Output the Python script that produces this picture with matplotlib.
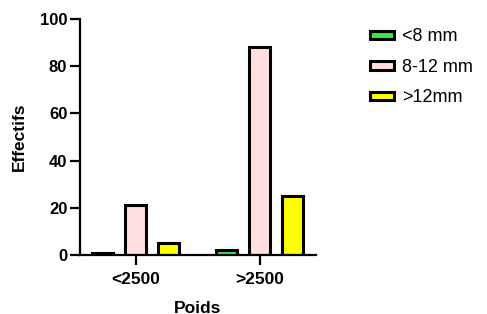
import matplotlib
matplotlib.use("Agg")
import matplotlib.pyplot as plt
import numpy as np

plt.rcParams['font.family'] = ['Liberation Sans', 'DejaVu Sans']

categories = ["<2500", ">2500"]
series_names = ["<8 mm", "8-12 mm", ">12mm"]
values_lt8 = [1, 2]
values_8_12 = [21, 88]
values_gt12 = [5, 25]
colors = ["#3ee83e", "#ffdfdf", "#ffff00"]

fig = plt.figure(figsize=(4.87, 3.14), dpi=100)
ax = fig.add_axes([0.164, 0.188, 0.485, 0.751])

x = np.arange(len(categories))
offset = 0.266
width = 0.17
all_vals = [values_lt8, values_8_12, values_gt12]
for i, (vals, name, c) in enumerate(zip(all_vals, series_names, colors)):
    ax.bar(x + (i - 1) * offset, vals, width=width, color=c, edgecolor='black',
           linewidth=2.2, label=name, zorder=2)

ax.set_xlim(-0.45, 1.455)
ax.set_ylim(0, 100)
ax.set_yticks([0, 20, 40, 60, 80, 100])
ax.set_xticks(x)
ax.set_xticklabels(categories)
for s in ['top', 'right']:
    ax.spines[s].set_visible(False)
for s in ['left', 'bottom']:
    ax.spines[s].set_linewidth(1.6)
    ax.spines[s].set_zorder(3)
ax.tick_params(axis='both', width=1.6, length=7)
ax.tick_params(axis='y', labelsize=12, pad=2)
ax.tick_params(axis='x', labelsize=12.5, pad=5)
for lab in ax.get_xticklabels() + ax.get_yticklabels():
    lab.set_fontweight('bold')
ax.set_xlabel("Poids", fontsize=12.5, fontweight='bold', labelpad=10)
ax.set_ylabel("Effectifs", fontsize=12.5, fontweight='bold', labelpad=9)

leg = ax.legend(loc='upper left', bbox_to_anchor=(1.158, 1.03), frameon=False,
                fontsize=13, handlelength=1.33, handleheight=0.35,
                labelspacing=0.75, handletextpad=0.45)

fig.savefig("out.png", dpi=100)
